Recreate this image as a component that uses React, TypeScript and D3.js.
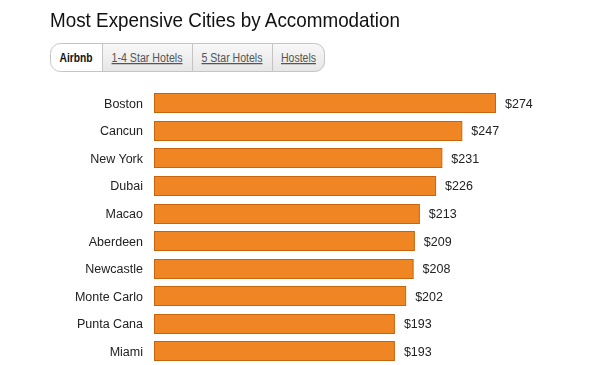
import React, { useRef, useEffect } from 'react';
import * as d3 from 'd3';

const cities = ['Boston', 'Cancun', 'New York', 'Dubai', 'Macao', 'Aberdeen', 'Newcastle', 'Monte Carlo', 'Punta Cana', 'Miami'];
const prices = [274, 247, 231, 226, 213, 209, 208, 202, 193, 193];
const tabs = ['Airbnb', '1-4 Star Hotels', '5 Star Hotels', 'Hostels'];
const tabEdges = [50, 102, 192, 272, 325];
const tabTextWidths = [33, 71, 61, 35];

const font = '"Liberation Sans", Arial, Helvetica, sans-serif';

export default function App() {
  const chartRef = useRef<SVGSVGElement>(null);

  useEffect(() => {
    const svg = d3.select(chartRef.current);
    svg.selectAll('*').remove();

    // title
    svg
      .append('text')
      .attr('x', 50)
      .attr('y', 27)
      .attr('font-size', '21px')
      .attr('fill', '#111')
      .attr('textLength', 350)
      .attr('lengthAdjust', 'spacingAndGlyphs')
      .text('Most Expensive Cities by Accommodation');

    // tab group
    const defs = svg.append('defs');
    const grad = defs
      .append('linearGradient')
      .attr('id', 'tabGrad')
      .attr('x1', 0)
      .attr('y1', 0)
      .attr('x2', 0)
      .attr('y2', 1);
    grad.append('stop').attr('offset', '0%').attr('stop-color', '#f8f8f8');
    grad.append('stop').attr('offset', '100%').attr('stop-color', '#e6e6e6');
    defs
      .append('clipPath')
      .attr('id', 'tabClip')
      .append('rect')
      .attr('x', 50)
      .attr('y', 43)
      .attr('width', 275)
      .attr('height', 29)
      .attr('rx', 10);

    const tabG = svg.append('g').attr('clip-path', 'url(#tabClip)');
    tabs.forEach((t, i) => {
      const x0 = tabEdges[i];
      const x1 = tabEdges[i + 1];
      tabG
        .append('rect')
        .attr('x', x0)
        .attr('y', 43)
        .attr('width', x1 - x0)
        .attr('height', 29)
        .attr('fill', i === 0 ? '#fff' : 'url(#tabGrad)');
      if (i > 0) {
        tabG
          .append('line')
          .attr('x1', x0 + 0.5)
          .attr('x2', x0 + 0.5)
          .attr('y1', 43)
          .attr('y2', 72)
          .attr('stroke', '#c4c4c4');
      }
      tabG
        .append('text')
        .attr('x', (x0 + x1) / 2 - tabTextWidths[i] / 2)
        .attr('y', 62)
        .attr('font-size', '12.5px')
        .attr('font-weight', i === 0 ? 'bold' : 'normal')
        .attr('fill', i === 0 ? '#111' : '#555')
        .attr('text-decoration', i === 0 ? 'none' : 'underline')
        .attr('textLength', tabTextWidths[i])
        .attr('lengthAdjust', 'spacingAndGlyphs')
        .text(t);
    });
    svg
      .append('rect')
      .attr('x', 50.5)
      .attr('y', 43.5)
      .attr('width', 274)
      .attr('height', 28)
      .attr('rx', 10)
      .attr('fill', 'none')
      .attr('stroke', '#c4c4c4');

    // bars
    const left = 154;
    const xScale = d3.scaleLinear().domain([0, 274]).range([0, 342]);
    const yScale = d3
      .scaleBand()
      .domain(cities)
      .range([89.5, 365])
      .paddingInner(0.28)
      .paddingOuter(0.14);

    const g = svg.append('g');
    g.selectAll('rect.bar')
      .data(cities)
      .enter()
      .append('rect')
      .attr('class', 'bar')
      .attr('x', left + 0.5)
      .attr('y', (d) => Math.round(yScale(d) || 0) + 0.5)
      .attr('width', (d, i) => xScale(prices[i]) - 1)
      .attr('height', Math.round(yScale.bandwidth()) - 1)
      .attr('fill', '#ef8623')
      .attr('stroke', '#c8650c');

    g.selectAll('text.city')
      .data(cities)
      .enter()
      .append('text')
      .attr('class', 'city')
      .attr('x', 143)
      .attr('y', (d) => (yScale(d) || 0) + yScale.bandwidth() / 2 + 4.5)
      .attr('text-anchor', 'end')
      .attr('font-size', '12.5px')
      .attr('fill', '#222')
      .text((d) => d);

    g.selectAll('text.val')
      .data(cities)
      .enter()
      .append('text')
      .attr('class', 'val')
      .attr('x', (d, i) => left + xScale(prices[i]) + 9)
      .attr('y', (d) => (yScale(d) || 0) + yScale.bandwidth() / 2 + 4.5)
      .attr('font-size', '12.5px')
      .attr('fill', '#222')
      .text((d, i) => `$${prices[i]}`);
  }, []);

  return (
    <div style={{ position: 'fixed', left: 0, top: 0 }}>
      <svg ref={chartRef} width={593} height={365} style={{ display: 'block', fontFamily: font }}></svg>
    </div>
  );
}
